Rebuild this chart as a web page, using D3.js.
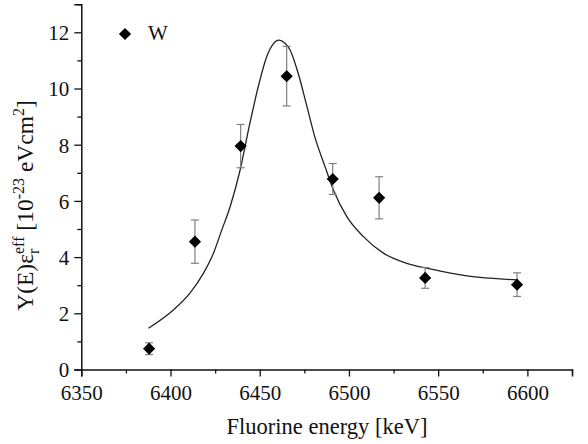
<!DOCTYPE html>
<html>
<head>
<meta charset="utf-8">
<script src="https://cdn.jsdelivr.net/npm/d3@7"></script>
<style>
  body { margin: 0; background: #fff; }
  svg { display: block; }
  svg text { font-family: "Liberation Serif", "Times New Roman", serif; }
</style>
</head>
<body>
<div id="vis"></div>
<script>
// measured points (W)
var energy   = [6388, 6413.7, 6439.3, 6465.1, 6490.9, 6516.9, 6542.7, 6594.2];
var yield_   = [0.74, 4.55, 7.95, 10.44, 6.78, 6.11, 3.26, 3.02];
var yieldErr = [0.21, 0.77, 0.77, 1.06, 0.55, 0.75, 0.37, 0.42];

// fitted curve
var fitE = [6387.6, 6401.6, 6410.9, 6418.4, 6424.0, 6428.7, 6433.4, 6439.0, 6444.6, 6449.5, 6453.9, 6457.5, 6460.8, 6464.0, 6467.0, 6471.5, 6476.3, 6481.0, 6486.6, 6491.3, 6498.8, 6508.1, 6519.3, 6532.4, 6545.5, 6566.0, 6594.1];
var fitY = [1.47, 2.12, 2.72, 3.42, 4.13, 4.96, 5.79, 7.10, 8.80, 10.15, 11.13, 11.58, 11.72, 11.62, 11.37, 10.55, 9.40, 8.25, 7.22, 6.39, 5.44, 4.73, 4.14, 3.78, 3.58, 3.33, 3.19];

var xMajor = [6350, 6400, 6450, 6500, 6550, 6600];
var xMinor = [6375, 6425, 6475, 6525, 6575, 6625];
var yMajor = [0, 2, 4, 6, 8, 10, 12];
var yMinor = [1, 3, 5, 7, 9, 11, 13];

var width = 588, height = 444;
var serif = "Liberation Serif, Times New Roman, serif";

var svg = d3.select("#vis")
            .append("svg")
            .attr("width", width)
            .attr("height", height);

var x = d3.scaleLinear().domain([6350, 6625]).range([81.3, 572]);
var y = d3.scaleLinear().domain([0, 13]).range([369.5, 4.2]);

// axes: minor ticks first, then the major ones with labels
svg.append("g")
   .attr("transform", "translate(0," + y(0) + ")")
   .call(d3.axisBottom(x).tickValues(xMinor).tickSize(4).tickFormat(""))
   .call(g => g.select(".domain").remove());
svg.append("g")
   .attr("transform", "translate(" + x(6350) + ",0)")
   .call(d3.axisLeft(y).tickValues(yMinor).tickSize(4).tickFormat(""))
   .call(g => g.select(".domain").remove());

var xAxis = svg.append("g")
   .attr("transform", "translate(0," + y(0) + ")")
   .call(d3.axisBottom(x).tickValues(xMajor).tickSizeOuter(0).tickSize(7).tickFormat(d3.format("d")));
xAxis.selectAll("text").attr("y", 30).attr("dy", null);

var yAxis = svg.append("g")
   .attr("transform", "translate(" + x(6350) + ",0)")
   .call(d3.axisLeft(y).tickValues(yMajor).tickSizeOuter(0).tickSize(7));
yAxis.selectAll("text").attr("x", -12).attr("dy", "0.35em");

svg.selectAll("g").attr("font-family", serif);
svg.selectAll(".tick text").attr("font-size", 21).attr("fill", "#111");
svg.selectAll(".tick line").attr("stroke", "#111").attr("stroke-width", 1.3);
svg.selectAll(".domain").attr("stroke", "#111").attr("stroke-width", 1.5);

// fit line
var line = d3.line()
             .x(function(d, i) { return x(fitE[i]); })
             .y(function(d, i) { return y(fitY[i]); })
             .curve(d3.curveMonotoneX);

svg.append("path")
   .datum(fitE)
   .attr("d", line)
   .attr("fill", "none")
   .attr("stroke", "#222")
   .attr("stroke-width", 1.3);

// error bars
var bars = svg.append("g").attr("stroke", "#808080").attr("stroke-width", 1.2);
energy.forEach(function(e, i) {
  var cx = x(e), top = y(yield_[i] + yieldErr[i]), bot = y(yield_[i] - yieldErr[i]);
  bars.append("line").attr("x1", cx).attr("x2", cx).attr("y1", top).attr("y2", bot);
  bars.append("line").attr("x1", cx - 4).attr("x2", cx + 4).attr("y1", top).attr("y2", top);
  bars.append("line").attr("x1", cx - 4).attr("x2", cx + 4).attr("y1", bot).attr("y2", bot);
});

// diamonds
var diamond = d3.symbol().type(d3.symbolSquare).size(74);
svg.append("g")
   .selectAll("path")
   .data(energy)
   .enter()
     .append("path")
     .attr("d", diamond)
     .attr("transform", function(d, i) { return "translate(" + x(d) + "," + y(yield_[i]) + ") rotate(45)"; })
     .attr("fill", "#000");

// legend
svg.append("path")
   .attr("d", diamond)
   .attr("transform", "translate(125,34) rotate(45)")
   .attr("fill", "#000");
svg.append("text")
   .attr("x", 148).attr("y", 40)
   .attr("font-family", serif)
   .attr("font-size", 21)
   .attr("fill", "#111")
   .text("W");

// x label
svg.append("text")
   .attr("x", 327).attr("y", 434)
   .attr("text-anchor", "middle")
   .attr("font-family", serif)
   .attr("font-size", 22.5)
   .attr("fill", "#111")
   .text("Fluorine energy [keV]");

// y label, built piece by piece so sub and superscript can stack
var ylab = svg.append("g");
var t = ylab.append("text").attr("font-family", serif).attr("font-size", 23.5).attr("fill", "#111");
t.append("tspan").text("Y(E)\u03b5");
var eff = t.append("tspan").attr("font-size", 16).attr("dy", -9).text("eff");
var effW = eff.node().getComputedTextLength();
var r = t.append("tspan").attr("font-size", 16).attr("dx", -effW).attr("dy", 15).text("r");
var rW = r.node().getComputedTextLength();
t.append("tspan").attr("dx", effW - rW).attr("dy", -6).text(" [10");
t.append("tspan").attr("font-size", 16).attr("dy", -9).text("-23");
t.append("tspan").attr("dy", 9).text(" eVcm");
t.append("tspan").attr("font-size", 16).attr("dy", -9).text("2");
t.append("tspan").attr("dy", 9).text("]");

var bb = t.node().getBBox();
ylab.attr("transform", "translate(33," + (205.5 + bb.width / 2) + ") rotate(-90)");
</script>
</body>
</html>
